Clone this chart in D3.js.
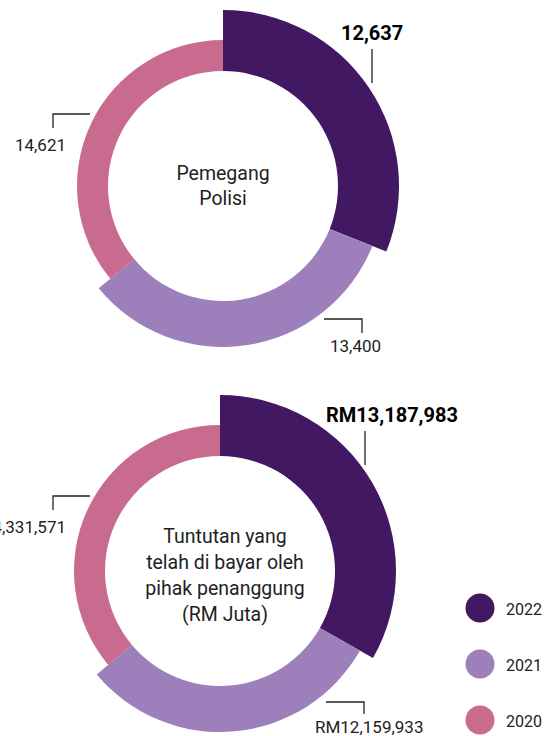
<!DOCTYPE html>
<html>
<head>
<meta charset="utf-8">
<script src="https://cdn.jsdelivr.net/npm/d3@7"></script>
<style>
	body { margin: 0; background: #fff; }
	svg { display: block; }
</style>
</head>
<body>
<script>
(function(d3) {
	var width = 553;
	var height = 736;

	// data
	var years = ["2022", "2021", "2020"];
	var policyHolders = [12637, 13400, 14621];
	var claimsPaid = [13187983, 12159933, 14331571];
	var policyLabels = ["12,637", "13,400", "14,621"];
	var claimsLabels = ["RM13,187,983", "RM12,159,933", "RM14,331,571"];

	var colors = ["#421862", "#9c7fbb", "#c96b8e"];
	var outerR = [176, 161, 146];
	var innerR = 115;
	var font = "Roboto, 'DejaVu Sans', sans-serif";

	var svg = d3.select("body").append("svg")
		.attr("width", width)
		.attr("height", height);

	var pie = d3.pie().sort(null);

	function drawDonut(opts) {
		var g = svg.append("g")
			.attr("transform", "translate(" + opts.cx + "," + opts.cy + ")");

		g.selectAll("path")
			.data(pie(opts.values))
			.enter().append("path")
			.attr("d", function(d, i) {
				return d3.arc().innerRadius(innerR).outerRadius(outerR[i])(d);
			})
			.style("fill", function(d, i) { return colors[i]; });

		// center title
		var title = g.append("text")
			.attr("text-anchor", "middle")
			.attr("font-family", font)
			.attr("font-size", "19.5px")
			.attr("fill", "#222");
		opts.title.forEach(function(line, i) {
			title.append("tspan")
				.attr("x", opts.titleDx)
				.attr("y", opts.titleY + i * opts.titleStep)
				.text(line);
		});

		// value labels + leader lines
		opts.labels.forEach(function(txt, i) {
			var l = opts.layout[i];
			g.append("path")
				.attr("d", l.line)
				.attr("fill", "none")
				.attr("stroke", "#222")
				.attr("stroke-width", 1.3);
			g.append("text")
				.attr("x", l.x)
				.attr("y", l.y)
				.attr("text-anchor", l.anchor)
				.attr("font-family", font)
				.attr("font-weight", i === 0 ? 700 : 400)
				.attr("font-size", i === 0 ? "20px" : "17px")
				.attr("fill", i === 0 ? "#000" : "#222")
				.text(txt);
		});
	}

	drawDonut({
		cx: 223, cy: 186,
		values: policyHolders,
		labels: policyLabels,
		title: ["Pemegang", "Polisi"],
		titleDx: 0, titleY: -6, titleStep: 25,
		layout: [
			{x: 118, y: -146, anchor: "start", line: "M149,-137V-103"},
			{x: 107, y: 166, anchor: "start", line: "M101,133H139V147"},
			{x: -157, y: -35, anchor: "end", line: "M-133,-72H-170V-58"}
		]
	});

	drawDonut({
		cx: 220, cy: 571,
		values: claimsPaid,
		labels: claimsLabels,
		title: ["Tuntutan yang", "telah di bayar oleh", "pihak penanggung", "(RM Juta)"],
		titleDx: 5, titleY: -28, titleStep: 26,
		layout: [
			{x: 106, y: -149, anchor: "start", line: "M145,-140V-106"},
			{x: 95, y: 162, anchor: "start", line: "M106,131H144V143"},
			{x: -154, y: -38, anchor: "end", line: "M-130,-75H-167V-61"}
		]
	});

	// legend
	var legend = svg.append("g")
		.attr("transform", "translate(480,608)");

	var item = legend.selectAll("g")
		.data(years)
		.enter().append("g")
		.attr("transform", function(d, i) { return "translate(0," + (i * 56) + ")"; });

	item.append("circle")
		.attr("r", 14.5)
		.style("fill", function(d, i) { return colors[i]; });

	item.append("text")
		.attr("x", 26)
		.attr("y", 7)
		.attr("font-family", font)
		.attr("font-size", "16px")
		.attr("fill", "#222")
		.text(function(d) { return d; });

})(d3);
</script>
</body>
</html>
